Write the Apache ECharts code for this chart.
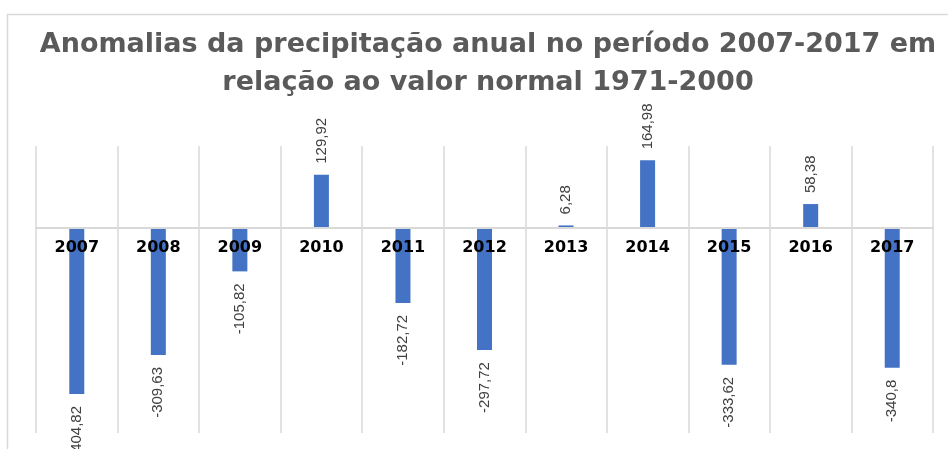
<!DOCTYPE html>
<html>
<head>
<meta charset="utf-8">
<script src="https://cdn.jsdelivr.net/npm/echarts@6/dist/echarts.min.js"></script>
<style>
  html, body { margin: 0; padding: 0; background: #fff; }
  #chart { width: 948px; height: 449px; }
</style>
</head>
<body>
<div id="chart"></div>
<script>
const anos = ['2007', '2008', '2009', '2010', '2011', '2012', '2013', '2014', '2015', '2016', '2017'];
const anomalias = [-404.82, -309.63, -105.82, 129.92, -182.72, -297.72, 6.28, 164.98, -333.62, 58.38, -340.8];
const titulo = 'Anomalias da precipitação anual no período 2007-2017 em\nrelação ao valor normal 1971-2000';

const chart = echarts.init(document.getElementById('chart'));

// rótulo acima da barra se positivo, abaixo se negativo
const dados = anomalias.map(v => ({
  value: v,
  label: v >= 0
    ? { position: 'top', align: 'left', distance: 11 }
    : { position: 'bottom', align: 'right', distance: 12 }
}));

chart.setOption({
  animation: false,
  title: {
    text: titulo,
    left: 483,
    textAlign: 'center',
    top: 21,
    textStyle: {
      fontFamily: 'DejaVu Sans',
      fontSize: 27,
      fontWeight: 'bold',
      color: '#5a5a5a',
      lineHeight: 38
    }
  },
  graphic: [{
    type: 'rect',
    shape: { x: 7.5, y: 14.5, width: 1000, height: 1000 },
    style: { fill: 'none', stroke: '#d9d9d9', lineWidth: 1.5 },
    silent: true
  }],
  grid: { left: 36, right: 15, top: 146, bottom: 16, outerBoundsMode: 'none', containLabel: false },
  xAxis: {
    type: 'category',
    data: anos,
    z: 3,
    position: 'bottom',
    offset: -205,
    axisTick: { show: false },
    axisLine: { onZero: false, lineStyle: { color: '#d9d9d9', width: 2 } },
    splitLine: { show: true, lineStyle: { color: '#d9d9d9', width: 1.5 } },
    axisLabel: {
      margin: 12,
      color: '#000',
      fontFamily: 'DejaVu Sans',
      fontWeight: 'bold',
      fontSize: 16
    }
  },
  yAxis: {
    type: 'value',
    min: -500,
    max: 200,
    show: false,
    splitLine: { show: false }
  },
  series: [{
    type: 'bar',
    data: dados,
    barWidth: 15,
    itemStyle: { color: '#4472c4' },
    label: {
      show: true,
      rotate: 90,
      verticalAlign: 'middle',
      color: '#404040',
      fontFamily: 'Liberation Sans',
      fontSize: 15,
      formatter: p => String(p.value).replace('.', ',')
    }
  }]
});
</script>
</body>
</html>
